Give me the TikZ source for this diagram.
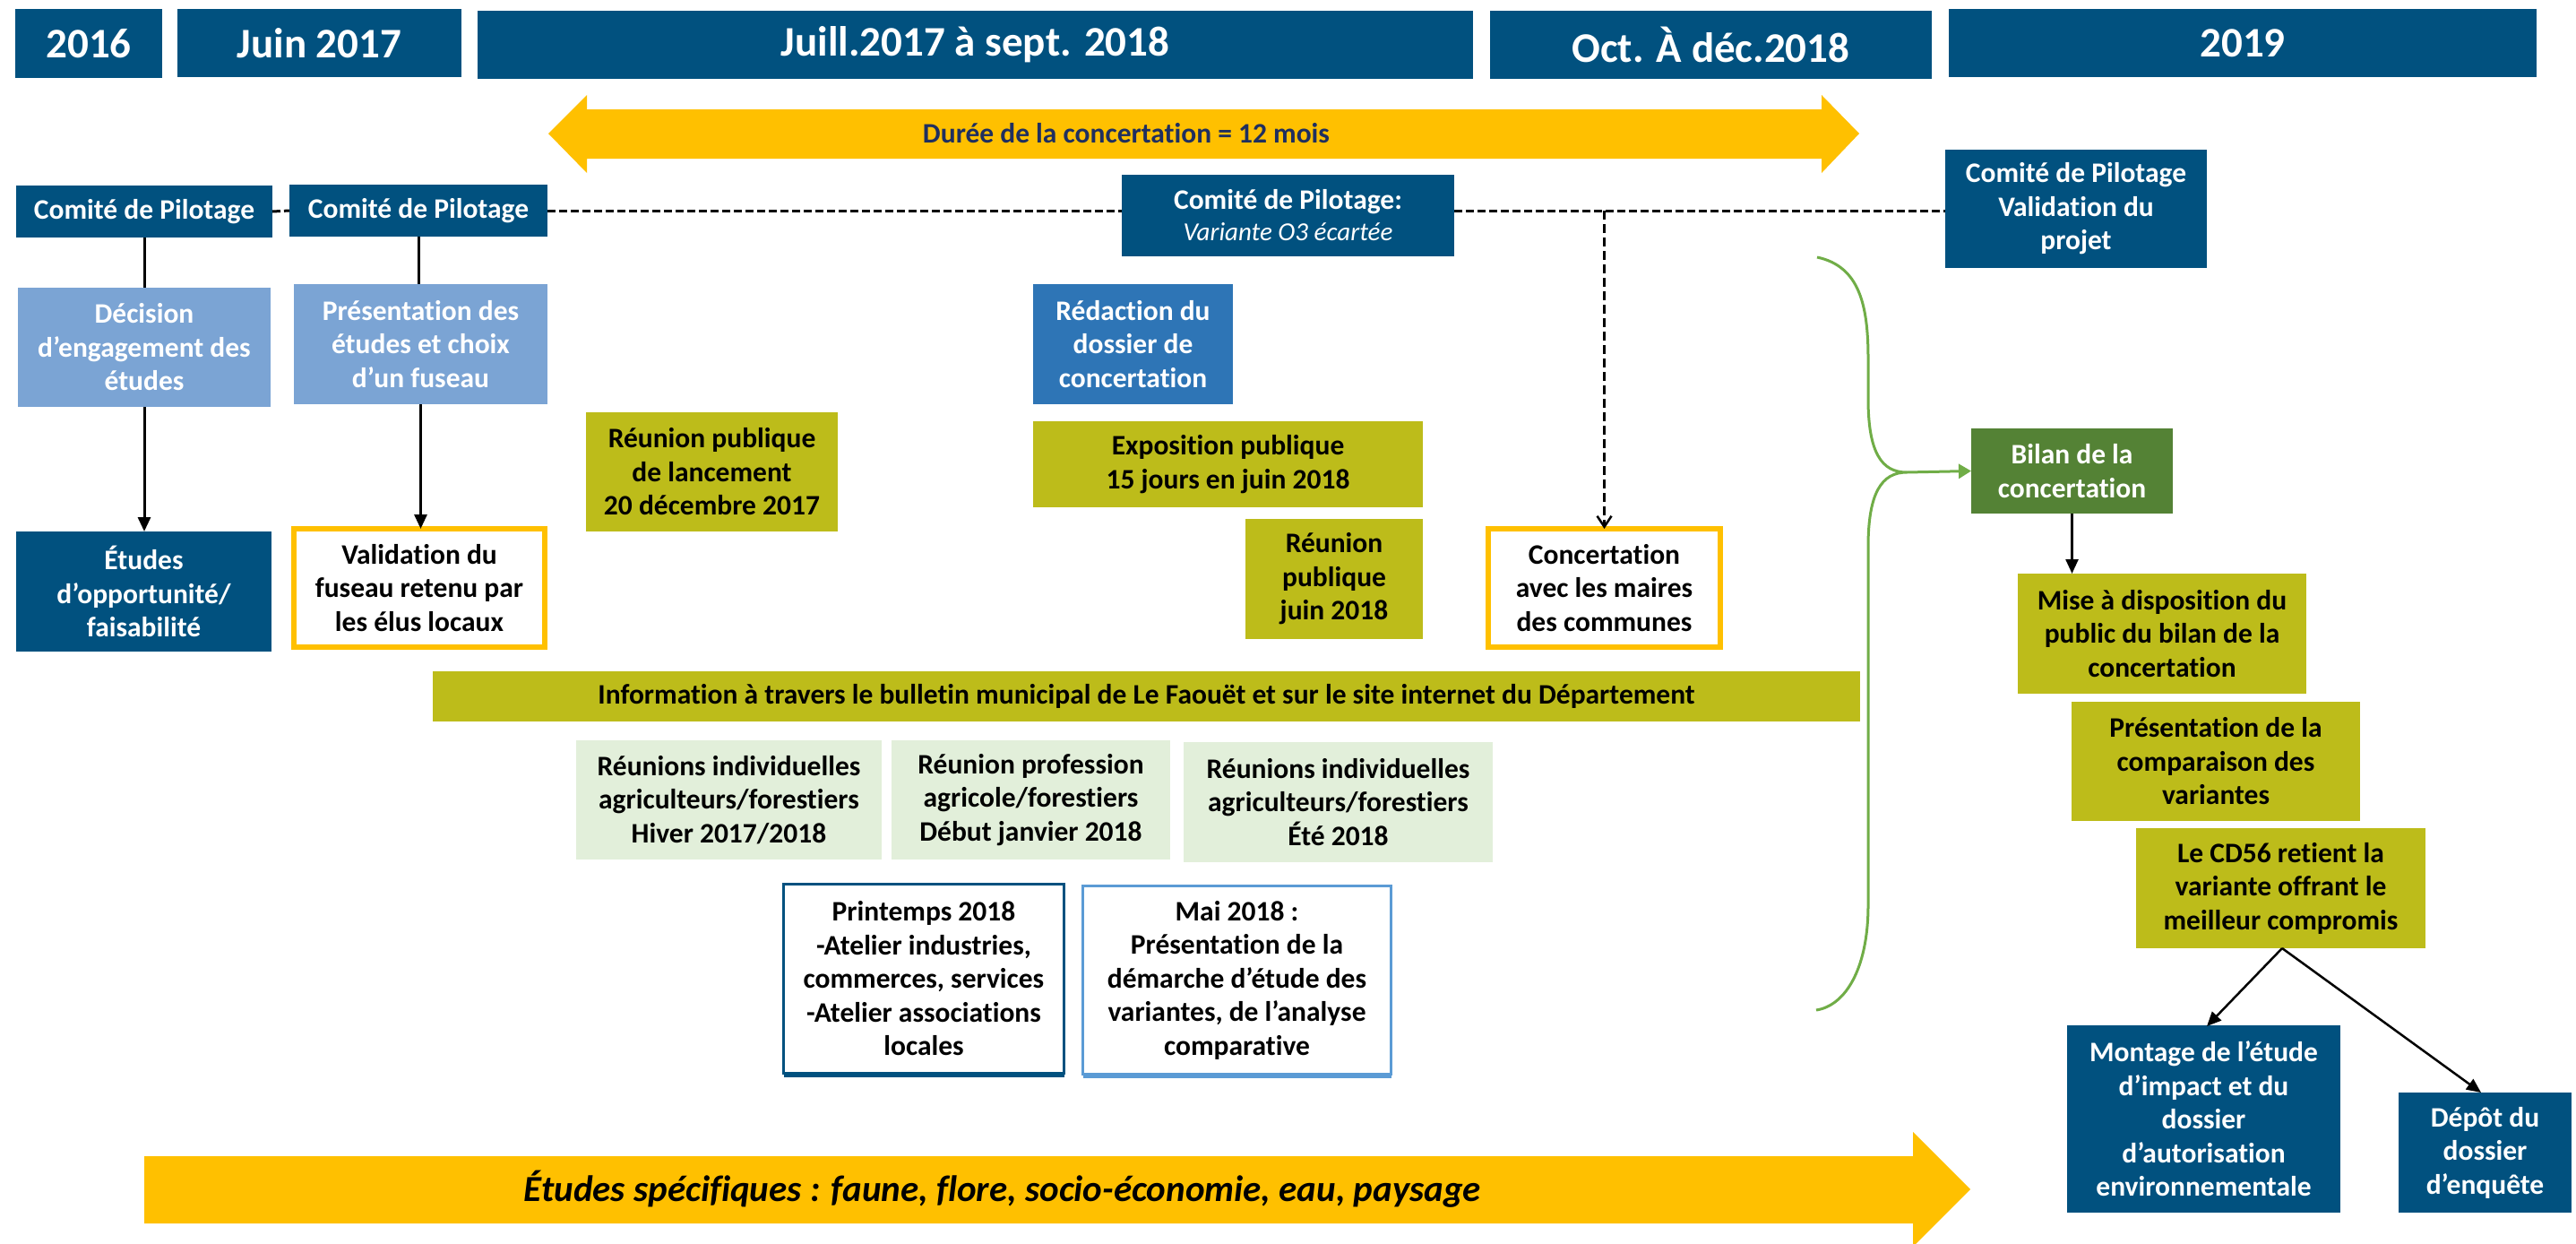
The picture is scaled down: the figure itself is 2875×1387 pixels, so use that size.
\documentclass[tikz,border=0pt]{standalone}
\usepackage{fontspec}
\setmainfont{Carlito}[Ligatures=NoCommon]
\usetikzlibrary{arrows.meta}
\definecolor{dblue}{HTML}{01517F}
\definecolor{lblue}{HTML}{7BA4D4}
\definecolor{mblue}{HTML}{2E75B6}
\definecolor{olive}{HTML}{BDBC1A}
\definecolor{lgreen}{HTML}{E2EFDA}
\definecolor{yel}{HTML}{FFC000}
\definecolor{bgreen}{HTML}{548235}
\definecolor{brgreen}{HTML}{70AD47}
\definecolor{maiblue}{HTML}{5B9BD5}
\definecolor{navytxt}{HTML}{1F2F5F}
\tikzset{
  sz/.style 2 args={minimum width=#1pt, minimum height=#2pt},
  base/.style={font=\bfseries\fontsize{31.5}{37.5}\selectfont, align=center, inner sep=0pt, outer sep=0pt},
  hdr/.style={fill=dblue, text=white, font=\bfseries\fontsize{47}{50}\selectfont, inner sep=0pt},
  dbox/.style={base, fill=dblue, text=white},
  lbox/.style={base, fill=lblue, text=white},
  mbox/.style={base, fill=mblue, text=white},
  obox/.style={base, fill=olive, text=black},
  gbox/.style={base, fill=lgreen, text=black},
  grbox/.style={base, fill=bgreen, text=white},
  ybox/.style={base, draw=yel, line width=6pt, fill=white, text=black},
  conn/.style={line width=3pt},
  arr/.style={conn, -{Triangle[width=14pt,length=16pt]}},
  dline/.style={line width=3pt, dash pattern=on 9pt off 4pt},
  darr/.style={line width=2.5pt, dash pattern=on 10pt off 5pt, -{Straight Barb[width=16pt,length=12pt,line width=2.5pt]}},
}
\begin{document}
\begin{tikzpicture}[x=1pt,y=-1pt]
\useasboundingbox (0,0) rectangle (2875,1387);
\fill[white] (0,0) rectangle (2875,1387);

% headers
\node[hdr, sz={164}{77}] (h2016) at (99,48.5) {2016};
\node[hdr, sz={317}{76}] (hjuin) at (356.5,48) {Juin 2017};
\node[hdr, sz={1111}{76}] (hjuill) at (1088.5,50) {Juill.2017 à sept. 2018};
\node[hdr, sz={493}{76}] (hoct) at (1909.5,50) {Oct. À déc.2018};
\node[hdr, sz={656}{76}] (h2019) at (2503,48) {2019};

% double arrow
\fill[yel] (612,149) -- (655,106) -- (655,122) -- (2033,122) -- (2033,106) -- (2075,149) -- (2033,193) -- (2033,177) -- (655,177) -- (655,193) -- cycle;
\node[base, text=navytxt] (duree) at (1257,149) {Durée de la concertation = 12 mois};

% comites
\node[dbox, sz={286}{58}] (comite1) at (161,236) {Comité de Pilotage};
\node[dbox, sz={288}{58}] (comite2) at (467,235) {Comité de Pilotage};
\node[dbox, sz={371}{91}, font=\bfseries\fontsize{31.5}{35}\selectfont] (comite3) at (1437.5,240.5) {Comité de Pilotage:\\{\mdseries\itshape\fontsize{29}{35}\selectfont Variante O3 écartée}};
\node[dbox, sz={292}{132}] (comite4) at (2317,233) {Comité de Pilotage\\Validation du\\projet};

% left columns
\node[lbox, sz={282}{133}] (decision) at (161,387.5) {Décision\\d’engagement des\\études};
\node[lbox, sz={283}{134}] (present) at (469.5,384) {Présentation des\\études et choix\\d’un fuseau};
\node[dbox, sz={285}{134}] (etudes) at (160.5,660) {Études\\d’opportunité/\\faisabilité};
\node[ybox, sz={280}{132}] (valid) at (468,656) {Validation du\\fuseau retenu par\\les élus locaux};

\node[obox, sz={281}{133}] (lancement) at (794.5,526.5) {Réunion publique\\de lancement\\20 décembre 2017};
\node[mbox, sz={223}{134}] (redaction) at (1264.5,384) {Rédaction du\\dossier de\\concertation};
\node[obox, sz={435}{96}] (expo) at (1370.5,518) {Exposition publique\\15 jours en juin 2018};
\node[obox, sz={198}{134}] (rjuin) at (1489,646) {Réunion\\publique\\juin 2018};
\node[ybox, sz={259}{132}] (concert) at (1790.5,656) {Concertation\\avec les maires\\des communes};

\node[obox, sz={1593}{56}] (info) at (1279.5,777) {Information à travers le bulletin municipal de Le Faouët et sur le site internet du Département};

\node[gbox, sz={341}{133}] (ri1) at (813.5,892.5) {Réunions individuelles\\agriculteurs/forestiers\\Hiver 2017/2018};
\node[gbox, sz={311}{133}] (rprof) at (1150.5,892.5) {Réunion profession\\agricole/forestiers\\Début janvier 2018};
\node[gbox, sz={345}{134}] (ri2) at (1493.5,895) {Réunions individuelles\\agriculteurs/forestiers\\Été 2018};

\node[base, draw=dblue, line width=3pt, fill=white, sz={313}{211}] (printemps) at (1031,1092) {Printemps 2018\\-Atelier industries,\\commerces, services\\-Atelier associations\\locales};
\draw[dblue, line width=3pt] ([yshift=-3pt]printemps.south west) -- ([yshift=-3pt]printemps.south east);
\node[base, draw=maiblue, line width=3pt, fill=white, sz={344}{210}] (mai) at (1380.5,1093.5) {Mai 2018 :\\Présentation de la\\démarche d’étude des\\variantes, de l’analyse\\comparative};
\draw[maiblue, line width=3pt] ([yshift=-3pt]mai.south west) -- ([yshift=-3pt]mai.south east);

% right column
\node[grbox, sz={225}{95}] (bilan) at (2312.5,525.5) {Bilan de la\\concertation};
\node[obox, sz={322}{134}] (mise) at (2413,707) {Mise à disposition du\\public du bilan de la\\concertation};
\node[obox, sz={322}{133}] (compar) at (2473,849.5) {Présentation de la\\comparaison des\\variantes};
\node[obox, sz={323}{134}] (cd56) at (2545.5,991) {Le CD56 retient la\\variante offrant le\\meilleur compromis};
\node[dbox, sz={305}{209}] (montage) at (2459.5,1248.5) {Montage de l’étude\\d’impact et du\\dossier\\d’autorisation\\environnementale};
\node[dbox, sz={193}{134}] (depot) at (2773.5,1286) {Dépôt du\\dossier\\d’enquête};

% bottom arrow
\fill[yel] (161,1290) -- (2135,1290) -- (2135,1263) -- (2199,1327) -- (2135,1391) -- (2135,1365) -- (161,1365) -- cycle;
\node[base, font=\bfseries\itshape\fontsize{41}{44}\selectfont] (etspec) at (1119,1327) {Études spécifiques : faune, flore, socio-économie, eau, paysage};

% connectors
\draw[conn] (comite1.south) -- (decision.north);
\draw[arr] (decision.south) -- (decision.south |- etudes.north);
\draw[conn] (comite2.south) -- (comite2.south |- present.north);
\draw[arr] (present.south) -- (present.south |- valid.north);
\draw[dline] (comite1.east) -- (comite2.west);
\draw[dline] (comite2.east) -- (comite2.east -| comite3.west);
\draw[dline] (comite2.east -| comite3.east) -- (comite2.east -| comite4.west);
\coordinate (dj) at (concert.north |- comite2.east);
\draw[darr] (dj) -- (concert.north);

\draw[arr, line width=2.5pt] (bilan.south) -- (bilan.south |- mise.north);
\coordinate (cdb) at (2547,1058);
\draw[arr, line width=2.5pt] (cdb) -- (2463,1145);
\draw[arr, line width=2.5pt] (cdb) -- (2769,1219);

% green brace
\coordinate (brtop) at (2028,287);
\coordinate (brtip) at (2128,527);
\coordinate (brbot) at (2027,1127);
\draw[brgreen, line width=3pt] (brtop) .. controls (2075,297) and (2085,340) .. (2085,400) -- (2085,445) .. controls (2085,505) and (2100,527) .. (brtip) .. controls (2100,527) and (2085,550) .. (2085,610) -- (2085,1010) .. controls (2085,1080) and (2060,1122) .. (brbot);
\draw[brgreen, line width=3pt, -{Triangle[width=16pt,length=14pt]}] (brtip) -- (bilan.west);
\end{tikzpicture}
\end{document}
